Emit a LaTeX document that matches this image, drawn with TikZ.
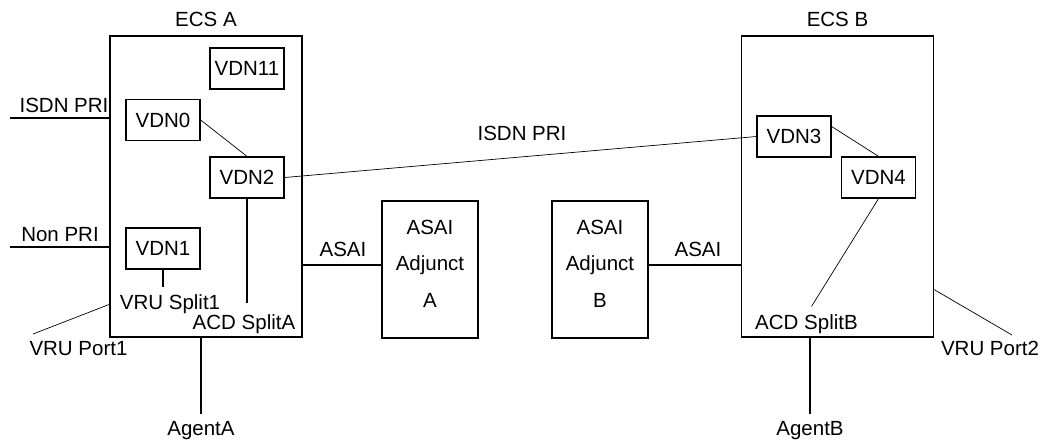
\documentclass[tikz,border=0pt]{standalone}
\usepackage{fontspec}
\setmainfont{Liberation Sans}
\usetikzlibrary{positioning,calc}

\begin{document}
\begin{tikzpicture}[
    x=1pt, y=-1pt,
    every node/.style={font={\fontsize{20.5}{36.5}\selectfont}},
    ecs/.style={rectangle, draw, line width=1.3pt, minimum width=192pt, minimum height=301pt},
    vdn/.style={rectangle, draw, line width=1.3pt, minimum width=74pt, minimum height=41pt, inner sep=0pt},
    adjunct/.style={rectangle, draw, line width=1.3pt, minimum width=96pt, minimum height=137pt},
    tag/.style={inner sep=0pt, text height=14.7pt, text depth=0pt},
    link/.style={line width=1.3pt},
    thinlink/.style={line width=0.7pt}
]
\useasboundingbox (0,0) rectangle (1043,440);

% ECS switches
\node[ecs] (ecsa) at (206,186.5) {};
\node[tag, above=8.5pt of ecsa] (ecsalabel) {ECS A};
\node[ecs] (ecsb) at (837.5,186.5) {};
\node[tag, above=8.5pt of ecsb] (ecsblabel) {ECS B};

% VDNs
\node[vdn] (vdn11) at (247,68.5) {VDN11};
\node[vdn] (vdn0) at (163,120) {VDN0};
\node[vdn] (vdn2) at (247,177.5) {VDN2};
\node[vdn] (vdn1) at (163,248.5) {VDN1};
\node[vdn] (vdn3) at (794,136.5) {VDN3};
\node[vdn] (vdn4) at (878.5,177.5) {VDN4};

% ASAI adjuncts
\node[adjunct] (adja) at (430,269.5) {};
\node[align=center, inner sep=0pt] (adjatext) at (430,263.5) {ASAI\\Adjunct\\A};
\node[adjunct] (adjb) at (600,269.5) {};
\node[align=center, inner sep=0pt] (adjbtext) at (600,263.5) {ASAI\\Adjunct\\B};

% Splits
\node[tag] (split1) at (170,302) {VRU Split1};
\node[tag] (splita) at (244,322) {ACD SplitA};
\node[tag] (splitb) at (806.5,322) {ACD SplitB};

% Free ends
\coordinate (isdnend) at (10,118);
\coordinate (nonpriend) at (10,247);
\coordinate (port1end) at (33,334);
\coordinate (port2end) at (1012,335);
\coordinate (agentaend) at (201,414);
\coordinate (agentbend) at (810,414);
\coordinate (asaia) at ([yshift=4.5pt]adja.west);
\coordinate (asaib) at ([yshift=4.5pt]adjb.east);

% Trunks into ECS A
\draw[link] (isdnend) -- (isdnend -| ecsa.west);
\node[tag] (isdnlabel) at (64,105) {ISDN PRI};
\draw[link] (nonpriend) -- (nonpriend -| ecsa.west);
\node[tag] (nonprilabel) at (60,234) {Non PRI};

% VRU ports
\draw[thinlink] ($(ecsa.south west)!0.11!(ecsa.north west)$) -- (port1end);
\node[tag] (port1label) at (78.5,348) {VRU Port1};
\draw[thinlink] ($(ecsb.south east)!0.159!(ecsb.north east)$) -- (port2end);
\node[tag] (port2label) at (990,348) {VRU Port2};

% Agents
\draw[link] (agentaend |- ecsa.south) -- (agentaend);
\node[tag, below=6.6pt of agentaend] (agentalabel) {AgentA};
\draw[link] (agentbend |- ecsb.south) -- (agentbend);
\node[tag, below=6.6pt of agentbend] (agentblabel) {AgentB};

% ASAI links
\draw[link] (asaia) -- (asaia -| ecsa.east);
\node[tag] (asaialabel) at (343,249) {ASAI};
\draw[link] (asaib) -- (asaib -| ecsb.west);
\node[tag] (asaiblabel) at (698,249) {ASAI};

% Call flow between VDNs
\draw[thinlink] (vdn0.east) -- (vdn2.north);
\draw[thinlink] (vdn2.east) -- (vdn3.west);
\node[tag] (isdnmid) at (522,133) {ISDN PRI};
\draw[thinlink] ([yshift=10pt]vdn3.east) -- (vdn4.north);
\draw[link, shorten >=7.6pt] (vdn1.south) -- (vdn1.south |- split1.north);
\draw[link, shorten >=11pt] (vdn2.south) -- (vdn2.south |- splita.north);
\draw[thinlink, shorten >=9.5pt] (vdn4.south) -- (splitb.north);

\end{tikzpicture}
\end{document}
